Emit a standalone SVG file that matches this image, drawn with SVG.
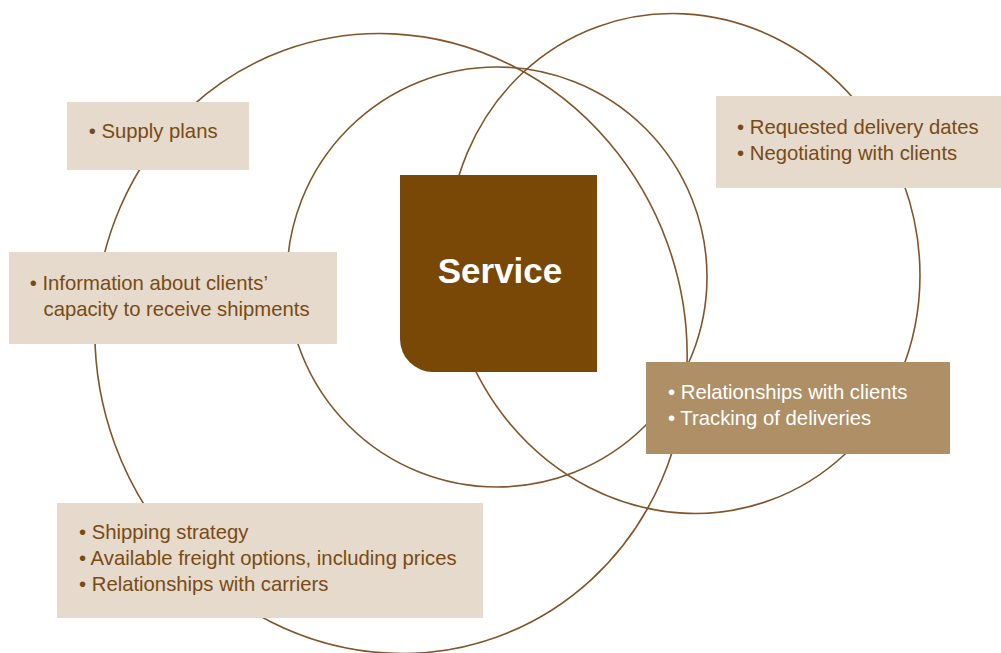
<svg xmlns="http://www.w3.org/2000/svg" width="1001" height="653" viewBox="0 0 1001 653">
<style>
.ring{fill:none;stroke:#80552A;stroke-width:1.6}
.lbox{fill:#E5DACB}
.dbox{fill:#AF8F66}
.t{font-family:"Liberation Sans",Arial,sans-serif;font-size:20.3px;fill:#7A4A14}
.tw{font-family:"Liberation Sans",Arial,sans-serif;font-size:20.3px;fill:#FFFFFF}
.svc{font-family:"Liberation Sans",Arial,sans-serif;font-size:35px;font-weight:bold;fill:#FFFFFF}
</style>
<rect width="1001" height="653" fill="#FFFFFF"/>
<g id="connectors">
<ellipse class="ring" cx="391" cy="343.5" rx="294" ry="312" transform="rotate(-20 391 343.5)"/>
<circle class="ring" cx="497" cy="277" r="210"/>
<ellipse class="ring" cx="683.8" cy="263.5" rx="234" ry="252" transform="rotate(-20 683.8 263.5)"/>
</g>
<g id="supply">
<rect class="lbox" x="67" y="102" width="182" height="68"/>
<text class="t" x="88.7" y="138">• Supply plans</text>
</g>
<g id="info">
<rect class="lbox" x="9" y="252" width="328" height="92"/>
<text class="t" x="29.7" y="289.5">• Information about clients’</text>
<text class="t" x="43.5" y="315.5">capacity to receive shipments</text>
</g>
<g id="service">
<path d="M400,175 H597 V372 H433 A33,33 0 0 1 400,339 Z" fill="#7A4806"/>
<text class="svc" x="500" y="283" text-anchor="middle">Service</text>
</g>
<g id="requested">
<rect class="lbox" x="716" y="96" width="285" height="92"/>
<text class="t" x="737" y="134">• Requested delivery dates</text>
<text class="t" x="737" y="160">• Negotiating with clients</text>
</g>
<g id="relationships">
<rect class="dbox" x="646" y="362" width="304" height="92"/>
<text class="tw" x="668" y="398.5">• Relationships with clients</text>
<text class="tw" x="668" y="424.5">• Tracking of deliveries</text>
</g>
<g id="shipping">
<rect class="lbox" x="57" y="503" width="426" height="115"/>
<text class="t" x="79" y="538.5">• Shipping strategy</text>
<text class="t" x="79" y="564.5">• Available freight options, including prices</text>
<text class="t" x="79" y="590.5">• Relationships with carriers</text>
</g>
</svg>
